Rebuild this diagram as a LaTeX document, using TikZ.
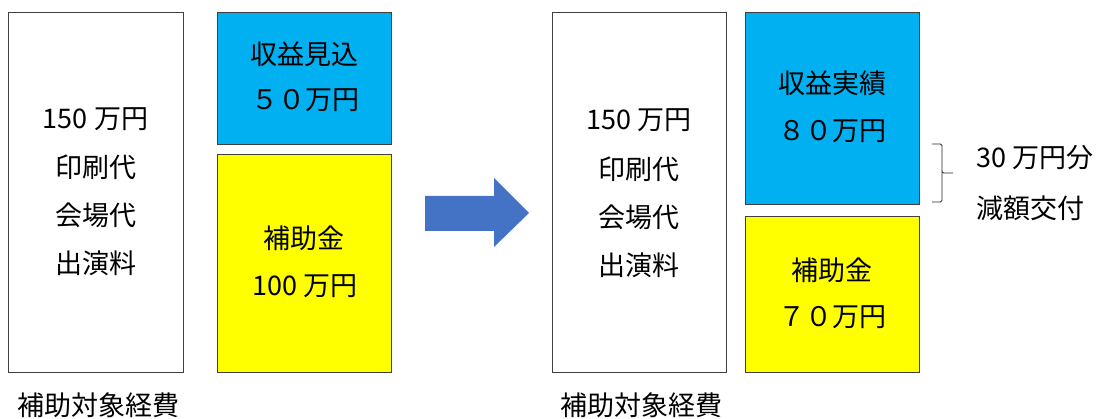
\documentclass[tikz,border=0pt]{standalone}
\usepackage{fontspec}
\setmainfont{Noto Sans CJK JP}
\definecolor{sky}{HTML}{00B0F0}
\definecolor{yel}{HTML}{FFFF00}
\definecolor{arrowblue}{HTML}{4472C4}
\definecolor{edge}{HTML}{404040}
\begin{document}
\begin{tikzpicture}[x=1pt,y=-1pt,
  box/.style={draw=edge, line width=0.9pt, anchor=north west, inner sep=0pt},
  txt/.style={inner sep=0pt, font=\fontsize{27}{32}\selectfont},
  bracepath/.style={draw=black!85, line width=0.9pt, rounded corners=1.5pt}]
\useasboundingbox (0,0) rectangle (1105,419);
% left panel
\node[box, fill=white, minimum width=175pt, minimum height=360pt] (costL) at (8,12) {};
\node[box, fill=sky, minimum width=174pt, minimum height=132pt] (incL) at (217,12) {};
\node[box, fill=yel, minimum width=174pt, minimum height=218pt] (subL) at (217,154) {};
\node[txt] (costL1) at (95.5,119) {150 万円};
\node[txt] (costL2) at (95.5,167) {印刷代};
\node[txt] (costL3) at (95.5,215) {会場代};
\node[txt] (costL4) at (95.5,263) {出演料};
\node[txt] (incL1) at (304,54) {収益見込};
\node[txt] (incL2) at (305,100) {５０万円};
\node[txt] (subL1) at (304,238) {補助金};
\node[txt] (subL2) at (305,286) {100 万円};
\node[txt] (labL) at (98,405) {補助対象経費};
% arrow
\fill[arrowblue] (425,196) -- (494,196) -- (494,178) -- (529,213) -- (494,247) -- (494,231) -- (425,231) -- cycle;
% right panel
\node[box, fill=white, minimum width=174pt, minimum height=360pt] (costR) at (552,12) {};
\node[box, fill=sky, minimum width=174pt, minimum height=192pt] (incR) at (745,12) {};
\node[box, fill=yel, minimum width=174pt, minimum height=156pt] (subR) at (745,216) {};
\node[txt] (costR1) at (639,120) {150 万円};
\node[txt] (costR2) at (639,169) {印刷代};
\node[txt] (costR3) at (639,217) {会場代};
\node[txt] (costR4) at (639,265) {出演料};
\node[txt] (incR1) at (832,83) {収益実績};
\node[txt] (incR2) at (832,131) {８０万円};
\node[txt] (subR1) at (832,270) {補助金};
\node[txt] (subR2) at (832,317) {７０万円};
\node[txt] (labR) at (641,405) {補助対象経費};
% brace
\coordinate (bt) at (932,144);
\coordinate (bm) at (953,173);
\coordinate (bb) at (932,202);
\draw[bracepath] (bt) -- (942,144) -- (942,173) -- (bm);
\draw[bracepath] (942,172) -- (942,202) -- (bb);
\node[txt, anchor=west] (red1) at (976,158) {30 万円分};
\node[txt, anchor=west] (red2) at (976,208) {減額交付};
\end{tikzpicture}
\end{document}
